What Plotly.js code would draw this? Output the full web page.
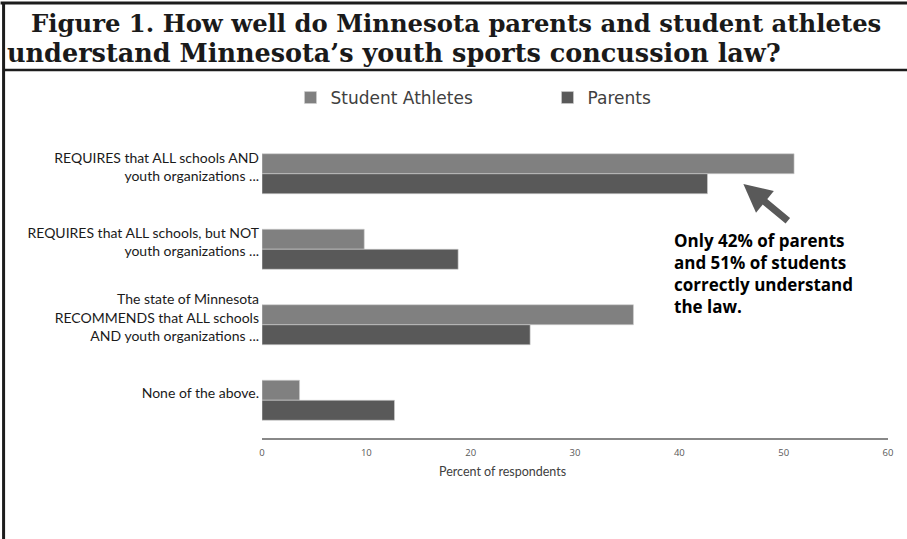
<!DOCTYPE html>
<html>
<head>
<meta charset="utf-8">
<script src="https://cdn.plot.ly/plotly-3.0.1.min.js"></script>
<style>html,body{margin:0;padding:0;background:#fff;}#chart{width:907px;height:539px;}</style>
</head>
<body>
<div id="chart"></div>
<script>
const categories = [
  "REQUIRES that ALL schools AND<br>youth organizations ...",
  "REQUIRES that ALL schools, but NOT<br>youth organizations ...",
  "The state of Minnesota<br>RECOMMENDS that ALL schools<br>AND youth organizations ...",
  "None of the above."
];
const studentAthletes = [51.0, 9.8, 35.6, 3.6];
const parents = [42.7, 18.8, 25.7, 12.7];
const xTicks = [0, 10, 20, 30, 40, 50, 60];
const titleLine1 = "Figure 1. How well do Minnesota parents and student athletes";
const titleLine2 = "understand Minnesota\u2019s youth sports concussion law?";
const callout = "Only 42% of parents<br>and 51% of students<br>correctly understand<br>the law.";

const W = 907, H = 539;
const M = {l: 261.5, r: 19.3, t: 136, b: 101};
const pw = W - M.l - M.r, ph = H - M.t - M.b;
const px = v => (v - M.l) / pw;        // pixel x -> paper x
const py = v => (H - M.b - v) / ph;    // pixel y -> paper y

const traces = [
  {type: 'bar', orientation: 'h', name: 'Student Athletes', y: categories, x: studentAthletes,
   marker: {color: '#808080', line: {color: '#d0d0d0', width: 0.6}}, hoverinfo: 'skip'},
  {type: 'bar', orientation: 'h', name: 'Parents', y: categories, x: parents,
   marker: {color: '#595959', line: {color: '#d0d0d0', width: 0.6}}, hoverinfo: 'skip'}
];

const frameColor = '#1c1c1c';
const layout = {
  width: W, height: H,
  margin: M,
  paper_bgcolor: '#ffffff', plot_bgcolor: '#ffffff',
  barmode: 'group', bargap: 0.47, bargroupgap: 0,
  showlegend: true,
  legend: {orientation: 'h', x: px(290), xanchor: 'left', y: py(98), yanchor: 'middle',
           entrywidth: 212, entrywidthmode: 'pixels',
           font: {family: 'DejaVu Sans, sans-serif', size: 17, color: '#404040'},
           itemclick: false, itemdoubleclick: false},
  xaxis: {range: [0, 60], tickvals: xTicks, ticktext: xTicks.map(String), showgrid: false, zeroline: false,
          showline: true, linecolor: '#888888', linewidth: 1.5, ticks: '', ticklabelstandoff: 5,
          tickfont: {family: 'Open Sans, sans-serif', size: 9.5, color: '#595959'},
          fixedrange: true},
  yaxis: {type: 'category', autorange: 'reversed', showgrid: false, zeroline: false, showline: false,
          ticks: '', ticklabelstandoff: 2, ticklabelshift: 7,
          tickfont: {family: 'Lato, sans-serif', size: 14, color: '#1a1a1a'},
          fixedrange: true},
  shapes: [
    {type: 'line', xref: 'paper', yref: 'paper', x0: px(0), x1: px(907), y0: py(3), y1: py(3),
     line: {color: frameColor, width: 3}},
    {type: 'line', xref: 'paper', yref: 'paper', x0: px(3), x1: px(907), y0: py(70), y1: py(70),
     line: {color: frameColor, width: 2.5}},
    {type: 'line', xref: 'paper', yref: 'paper', x0: px(3), x1: px(3), y0: py(2), y1: py(539),
     line: {color: frameColor, width: 3}}
  ],
  annotations: [
    {text: '<b>' + titleLine1 + '</b>', xref: 'paper', yref: 'paper', x: px(28), y: py(23),
     xanchor: 'left', yanchor: 'middle', showarrow: false,
     font: {family: 'DejaVu Serif, serif', size: 24.3, color: '#1a1a1a'}},
    {text: '<b>' + titleLine2 + '</b>', xref: 'paper', yref: 'paper', x: px(4), y: py(53),
     xanchor: 'left', yanchor: 'middle', showarrow: false,
     font: {family: 'DejaVu Serif, serif', size: 25.5, color: '#1a1a1a'}},
    {text: 'Percent of respondents', xref: 'paper', yref: 'paper', x: px(502), y: py(471),
     xanchor: 'center', yanchor: 'middle', showarrow: false,
     font: {family: 'Lato, sans-serif', size: 12.5, color: '#404040'}},
    {text: '<b>' + callout + '</b>', xref: 'paper', yref: 'paper', x: px(672), y: py(273),
     xanchor: 'left', yanchor: 'middle', align: 'left', showarrow: false,
     font: {family: 'Open Sans, sans-serif', size: 17, color: '#000000'}},
    {text: '', xref: 'paper', yref: 'paper', x: px(743), y: py(184),
     ax: px(789), ay: py(222), axref: 'paper', ayref: 'paper',
     showarrow: true, arrowhead: 2, arrowsize: 0.8, arrowwidth: 7, arrowcolor: '#595959', standoff: 0}
  ]
};

Plotly.newPlot('chart', traces, layout, {displayModeBar: false, staticPlot: true});
</script>
</body>
</html>
